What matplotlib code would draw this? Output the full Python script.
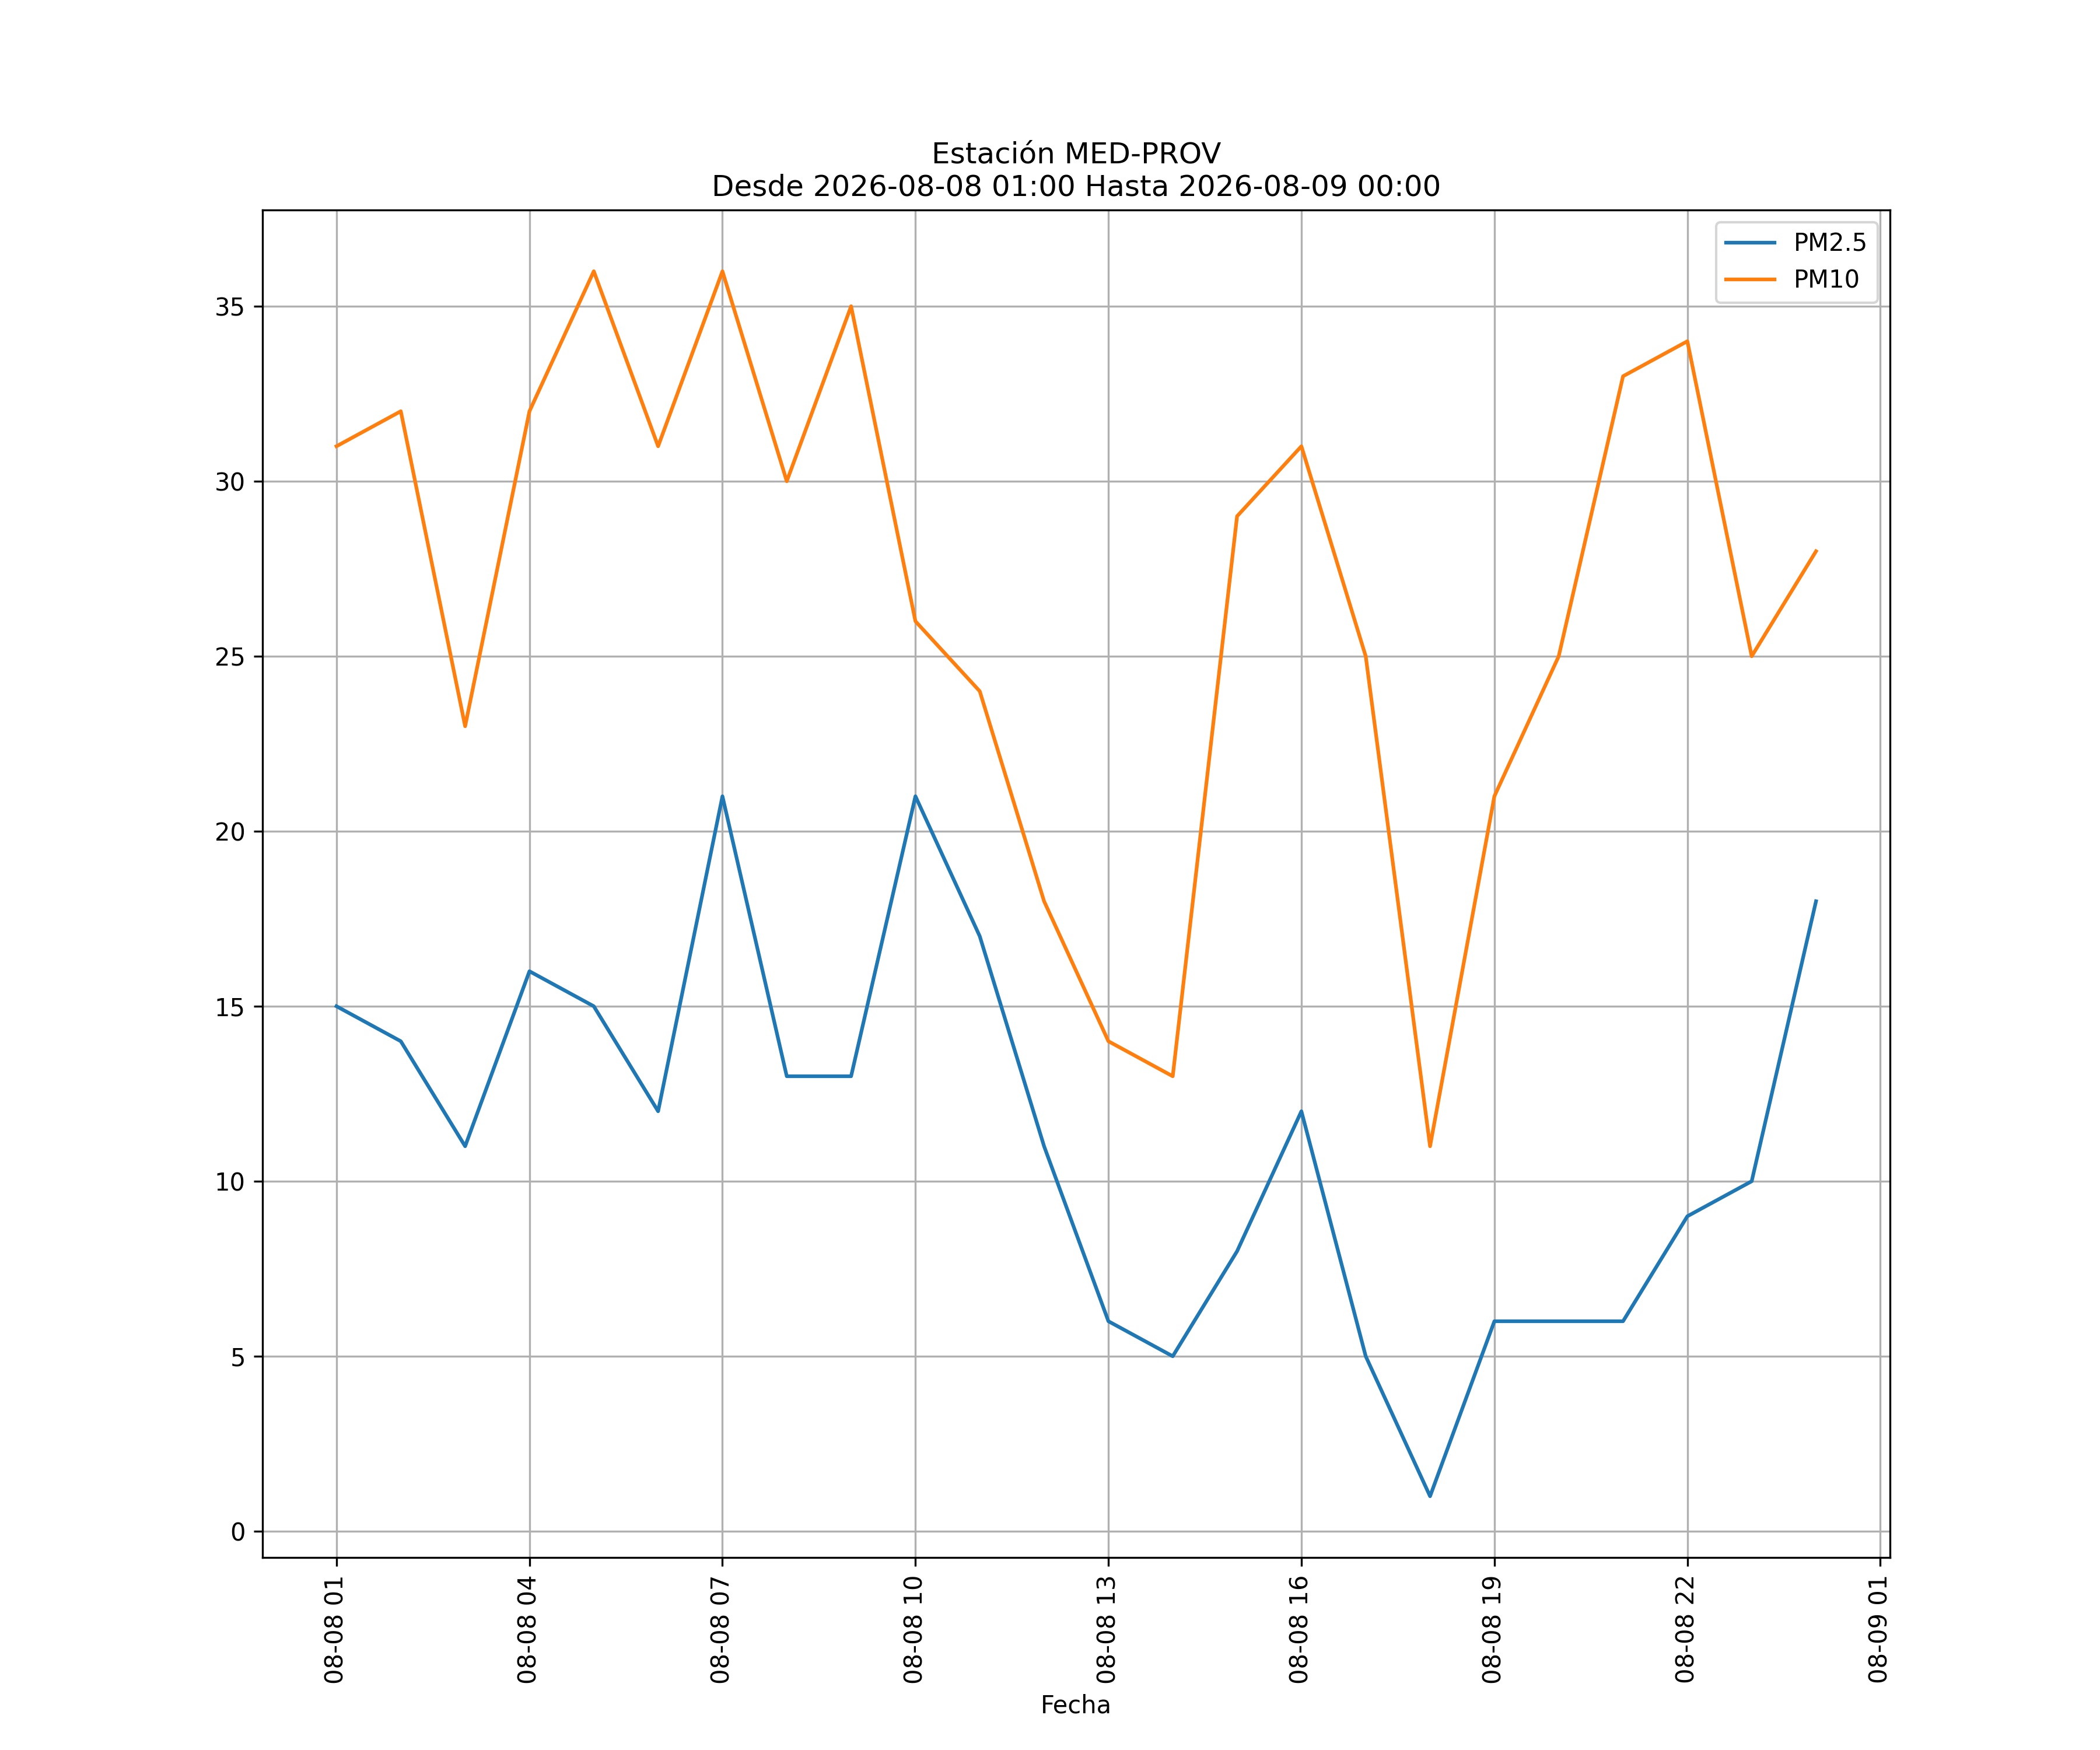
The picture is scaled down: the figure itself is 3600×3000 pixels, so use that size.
import pandas as pd
import matplotlib
matplotlib.use("Agg")
import matplotlib.pyplot as plt
import matplotlib.dates as mdates

# datos horarios de la estación
fechas = pd.date_range("2026-08-08 01:00", "2026-08-09 00:00", freq="h")
pm25 = [15, 14, 11, 16, 15, 12, 21, 13, 13, 21, 17, 11,
        6, 5, 8, 12, 5, 1, 6, 6, 6, 9, 10, 18]
pm10 = [31, 32, 23, 32, 36, 31, 36, 30, 35, 26, 24, 18,
        14, 13, 29, 31, 25, 11, 21, 25, 33, 34, 25, 28]

fig, ax = plt.subplots(figsize=(12, 10), dpi=300)
ax.plot(fechas, pm25, label="PM2.5")
ax.plot(fechas, pm10, label="PM10")
ax.set_title("Estación MED-PROV\nDesde 2026-08-08 01:00 Hasta 2026-08-09 00:00")
ax.set_xlabel("Fecha")
ax.xaxis.set_major_locator(mdates.HourLocator(byhour=range(1, 24, 3)))
ax.xaxis.set_major_formatter(mdates.DateFormatter("%m-%d %H"))
plt.setp(ax.get_xticklabels(), rotation=90)
ax.grid(True)
ax.legend(loc="upper right")
fig.savefig("out.png", dpi=300)
